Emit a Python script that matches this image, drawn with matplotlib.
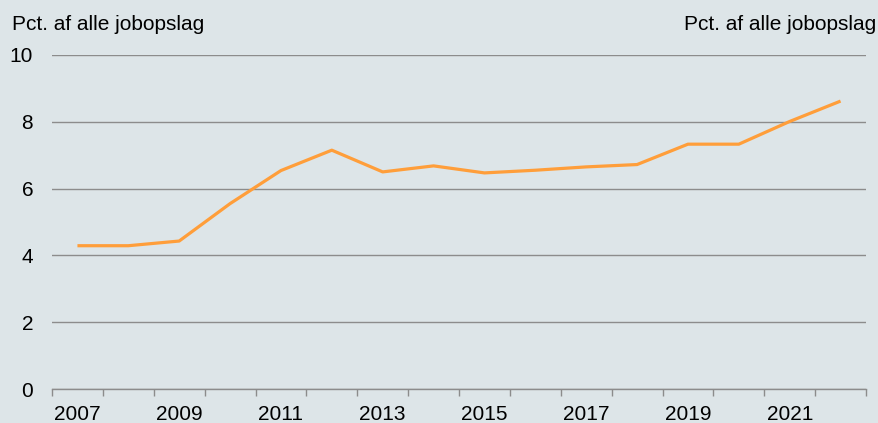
import matplotlib
matplotlib.use("Agg")
import matplotlib.pyplot as plt
import numpy as np

# share of all job postings, per year
years = list(range(2007, 2023))
share = [4.29, 4.29, 4.43, 5.55, 6.54, 7.15, 6.50, 6.68,
         6.47, 6.55, 6.65, 6.72, 7.33, 7.33, 8.01, 8.62]
y_ticks = [0, 2, 4, 6, 8, 10]
unit_label = "Pct. af alle jobopslag"

BG = "#dde5e8"
GRID = "#8c8c8c"
ORANGE = "#ff9e3a"

plt.rcParams["font.family"] = ["Liberation Sans", "DejaVu Sans"]

fig = plt.figure(figsize=(8.79, 4.23), dpi=100, facecolor=BG)
ax = fig.add_axes([52 / 879, 34 / 423, 814 / 879, 334 / 423], facecolor=BG)

x = np.arange(len(years))
ax.plot(x, share, color=ORANGE, linewidth=2.3, solid_capstyle="butt", zorder=3)

ax.set_xlim(-0.5, len(years) - 0.5)
ax.set_ylim(0, 10)

# y axis: gridlines only, labels on the left
ax.set_yticks(y_ticks)
ax.set_yticklabels([str(v) for v in y_ticks])
ax.yaxis.grid(True, color=GRID, linewidth=1.0)
ax.tick_params(axis="y", length=0, pad=13.5, labelsize=15, colors="black")

# x axis: tick marks between categories, labels every second year
ax.set_xticks(np.arange(-0.5, len(years), 1.0))
ax.set_xticklabels([])
ax.set_xticks(x[::2], minor=True)
ax.set_xticklabels([str(y) for y in years[::2]], minor=True)
ax.tick_params(axis="x", which="major", length=5, width=1, color=GRID, direction="out")
ax.tick_params(axis="x", which="minor", length=0, pad=11.5, labelsize=15)

for side in ["left", "right", "top"]:
    ax.spines[side].set_visible(False)
ax.spines["bottom"].set_color(GRID)
ax.spines["bottom"].set_linewidth(1.0)
ax.set_axisbelow(True)

fig.text(12 / 879, (423 - 30) / 423, unit_label, fontsize=15, va="baseline", ha="left")
fig.text(876 / 879, (423 - 30) / 423, unit_label, fontsize=15, va="baseline", ha="right")

fig.savefig("out.png", dpi=100, facecolor=BG)
